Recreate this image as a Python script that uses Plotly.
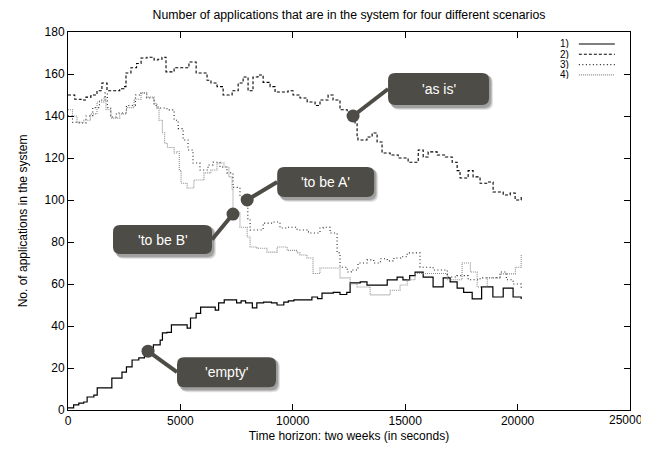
import plotly.graph_objects as go

# ---------------- data ----------------
empty_x = [0, 150, 250, 480, 700, 850, 1150, 1300, 1700, 1950, 2250, 2400, 2600, 2850, 3150, 3400, 3600, 3800,
           4100, 4200, 4400, 4600, 5150, 5300, 5450, 5700, 5900, 6350, 6550, 6700, 6950, 7250, 7500, 7700, 7900,
           8200, 8400, 8700, 9050, 9300, 9600, 9800, 10050, 10500, 10850, 11100, 11300, 11800, 12100, 12400,
           12550, 13000, 13300, 13750, 14200, 14640, 14900, 15200, 15440, 15800, 16240, 16690, 17000, 17310,
           17600, 17980, 18400, 18650, 18900, 19360, 19800, 20160]
empty_y = [1, 1, 2.4, 3.3, 3.8, 6.2, 7.1, 10.5, 10.5, 15.2, 15.2, 18, 20.5, 23.8, 24.8, 27, 28.6, 31,
           33.3, 36.7, 37, 40.5, 40.5, 39, 43.8, 46, 49, 49, 47.6, 51, 52.4, 52.4, 51, 52, 51,
           48.6, 51, 51.4, 51, 50, 51.4, 52, 52.4, 52.4, 53.8, 53, 55.7, 56, 55, 56,
           60.5, 61, 59.5, 59.5, 62, 63.3, 62, 64, 65.7, 63.3, 58.6, 62.9, 61, 58,
           56, 52.9, 58.6, 58.6, 53.8, 58, 53.8, 52.9]

asis_x = [0, 300, 580, 800, 1020, 1290, 1510, 1735, 2050, 2300, 2490, 2580, 2800, 3050, 3250, 3515, 3830, 4000,
          4180, 4360, 4720, 5160, 5380, 5700, 5960, 6185, 6360, 6630, 6900, 7300, 7570, 7790, 8010, 8230, 8450,
          8680, 8990, 9210, 9520, 9790, 10010, 10320, 10640, 10990, 11210, 11570, 11790, 12100, 12420, 12680,
          12770, 12860, 12900, 13300, 13530, 13750, 13970, 14330, 14690, 15130, 15580, 15800, 16020, 16420,
          16780, 17090, 17310, 17440, 17800, 18020, 18330, 18650, 18910, 19360, 19670, 19890, 20160]
asis_y = [150, 148, 147.6, 149, 150, 152, 155.7, 152, 152, 153, 154, 160.5, 163, 165, 167.6, 168, 166.7, 167,
          168, 161, 163, 163, 165.7, 160.5, 160.5, 157, 155.7, 154, 150, 152, 155.7, 158.6, 152, 158.6, 159.5,
          156, 154, 151.4, 151.4, 152, 150, 148.6, 146.7, 145, 147.6, 150, 147.6, 143, 142, 140,
          136.7, 129.5, 128.6, 130, 131.9, 127.6, 122.4, 121.4, 120, 118, 123.8, 120.5, 122.9, 121.4,
          120.5, 118, 114, 110.5, 114, 111, 108, 108.6, 103.8, 102.4, 103.3, 100, 101.4]

tobeA_x = [0, 200, 500, 800, 1100, 1400, 1650, 1750, 1900, 2150, 2600, 3000, 3250, 3500, 3830, 3960, 4400,
           4720, 4900, 5120, 5340, 5560, 5870, 6230, 6450, 6760, 7070, 7340, 7650, 7970, 8000, 8100, 8320,
           8680, 9120, 9430, 9750, 10190, 10630, 10770, 11210, 11350, 11660, 11970, 12100, 12420, 12600,
           12900, 13300, 13600, 13900, 14200, 14500, 14800, 15090, 15660, 16240, 16870, 17300, 17800,
           18330, 18700, 19220, 19500, 19800, 20160]
tobeA_y = [140, 137, 136.7, 140, 144, 147.6, 151, 144, 139.5, 141.4, 145, 150, 151, 148.6, 145, 143.8, 142.9,
           138, 134, 128.6, 123.8, 117.6, 114.3, 116.7, 118, 115.7, 112.9, 106, 101.4, 100, 90.5, 85.7, 85.7,
           89, 89.5, 86.7, 87, 85.7, 84.8, 84.3, 86.7, 87, 84.3, 74.8, 68, 65.7, 66.7,
           70, 71.5, 70, 72, 71, 72.4, 73, 74.8, 68, 66.7, 63.3, 64, 62,
           62.9, 63, 65.7, 62, 60, 57]

tobeB_x = [0, 200, 400, 700, 1000, 1290, 1600, 1690, 1910, 2300, 2600, 2940, 3250, 3500, 3830, 3960, 4050,
           4200, 4300, 4420, 4720, 4850, 4950, 5030, 5300, 5600, 6050, 6360, 6630, 6940, 7160, 7300, 7340,
           7650, 7970, 8100, 8410, 8850, 9300, 9750, 10190, 10320, 10630, 10900, 11210, 11660, 12100,
           12550, 12860, 13440, 13880, 14330, 14770, 15090, 15440, 16000, 16870, 17530, 17900, 18200,
           18650, 19220, 19670, 19900, 20160]
tobeB_y = [143, 140, 137, 138, 141, 146.7, 149, 143, 139, 141, 144, 148, 151, 149, 146, 144.3, 138,
           132, 127, 125, 122.4, 123, 114, 108, 105.7, 109.5, 112.9, 114.3, 117.6, 115.7, 111, 104.8, 93.8,
           87, 82.4, 77.6, 77, 75.2, 77.6, 76, 74.8, 73.8, 72.4, 65, 67.6, 67.6, 62.9,
           60, 58.6, 54.8, 54.8, 57, 59.5, 62, 65, 65, 62, 70, 65.7, 58.6,
           62.9, 64.8, 64.8, 68, 73.8]

series_names = ["1)", "2)", "3)", "4)"]
x_ticks = [0, 5000, 10000, 15000, 20000, 25000]
y_ticks = [0, 20, 40, 60, 80, 100, 120, 140, 160, 180]

# annotation labels and the data points they mark
ann_labels = ["'as is'", "'to be A'", "'to be B'", "'empty'"]
ann_x = [12680, 7970, 7340, 3560]
ann_y = [140, 100, 93.3, 28]
# box offsets from the dot in pixels: (left, right, bottom, top) with up positive
ann_box = [(35, 136, 11, 43), (30, 127, 3, 33), (-120, -21, -40, -11), (29, 128, -36, -6)]

# ---------------- figure ----------------
FONT = "Liberation Sans, Arial, Helvetica, sans-serif"
styles = [
    dict(color="black", width=1.2, dash="solid"),
    dict(color="black", width=1.1, dash="3px,2px"),
    dict(color="#222222", width=1.1, dash="1px,2.5px"),
    dict(color="#8a8a8a", width=1.1, dash="1px,1px"),
]
data = [(empty_x, empty_y), (asis_x, asis_y), (tobeA_x, tobeA_y), (tobeB_x, tobeB_y)]

fig = go.Figure()
for (xs, ys), st, nm in zip(data, styles, series_names):
    fig.add_trace(go.Scatter(x=xs, y=ys, mode="lines", line=dict(shape="hv", **st),
                             name=nm, showlegend=False))

BOX = "#4e4c46"
shapes = []
annotations = []


def rrect(x0, x1, y0, y1, r=6):
    return (f"M {x0+r},{y0} L {x1-r},{y0} Q {x1},{y0} {x1},{y0+r} L {x1},{y1-r} Q {x1},{y1} {x1-r},{y1} "
            f"L {x0+r},{y1} Q {x0},{y1} {x0},{y1-r} L {x0},{y0+r} Q {x0},{y0} {x0+r},{y0} Z")


for lab, ax_, ay_, (l, r, b, t) in zip(ann_labels, ann_x, ann_y, ann_box):
    common = dict(xref="x", yref="y", xsizemode="pixel", ysizemode="pixel", xanchor=ax_, yanchor=ay_, layer="above")
    # shadow
    for k, a in [(4, 0.10), (3, 0.14), (2, 0.18)]:
        shapes.append(dict(type="path", path=rrect(l + k, r + k, b - k - 1, t - k + 1, 7),
                           fillcolor=f"rgba(0,0,0,{a})", line=dict(width=0), **common))
    # connector
    cx = l if l > 0 else r
    cy = (b + t) / 2
    shapes.append(dict(type="line", x0=0, y0=0, x1=cx, y1=cy, line=dict(color=BOX, width=4), **common))
    shapes.append(dict(type="path", path=rrect(l, r, b, t, 7), fillcolor=BOX, line=dict(width=0), **common))
    shapes.append(dict(type="circle", x0=-6.5, x1=6.5, y0=-6.5, y1=6.5, fillcolor=BOX, line=dict(width=0), **common))
    annotations.append(dict(x=ax_, y=ay_, xref="x", yref="y", text=lab, showarrow=False,
                            xshift=(l + r) / 2, yshift=(b + t) / 2,
                            font=dict(family=FONT, size=14, color="white")))

# custom gnuplot-style legend (label then line sample)
leg_y = [0.9683, 0.9410, 0.9138, 0.8865]
for nm, st, yy in zip(series_names, styles, leg_y):
    annotations.append(dict(x=0.893, y=yy, xref="paper", yref="paper", text=nm, showarrow=False,
                            xanchor="right", yanchor="middle", height=9, borderpad=0,
                            font=dict(family=FONT, size=10, color="black")))
    shapes.append(dict(type="line", xref="paper", yref="paper", x0=0.909, x1=0.973, y0=yy, y1=yy,
                       line=dict(color=st["color"], width=st["width"], dash=st["dash"])))

# the last x tick label would be clipped by the window edge: draw it as text nudged inside
x_ticktext = [str(v) for v in x_ticks[:-1]] + [""]
annotations.append(dict(x=x_ticks[-1], y=0, xref="x", yref="paper", text=str(x_ticks[-1]), showarrow=False,
                        xanchor="center", yanchor="top", xshift=-4, yshift=-2, borderpad=0,
                        font=dict(family=FONT, size=12, color="black")))

axis_common = dict(showline=True, linecolor="black", linewidth=1, mirror="ticks", ticks="inside",
                   ticklen=6, tickcolor="black", showgrid=False, zeroline=False, automargin=False,
                   tickfont=dict(family=FONT, size=12, color="black"))

# the page adds an 8px body margin, so the figure is offset by 8px inside the 649x451 window
fig.update_layout(
    width=641, height=443,
    margin=dict(l=60, r=19, t=24, b=41, autoexpand=False),
    paper_bgcolor="white", plot_bgcolor="white",
    title=dict(text="Number of applications that are in the system for four different scenarios",
               xref="paper", x=0.5, xanchor="center", yref="container", y=1 - 7 / 443, yanchor="middle",
               font=dict(family=FONT, size=12.3, color="black")),
    xaxis=dict(range=[0, 25000], tickvals=x_ticks, ticktext=x_ticktext,
               title=dict(text="Time horizon: two weeks (in seconds)", standoff=4,
                          font=dict(family=FONT, size=12, color="black")), **axis_common),
    yaxis=dict(range=[0, 180], tickvals=y_ticks, ticktext=[str(v) for v in y_ticks],
               title=dict(text="No. of applications in the system", standoff=14,
                          font=dict(family=FONT, size=12, color="black")), **axis_common),
    shapes=shapes, annotations=annotations, showlegend=False,
)

fig.write_html("out.html")
